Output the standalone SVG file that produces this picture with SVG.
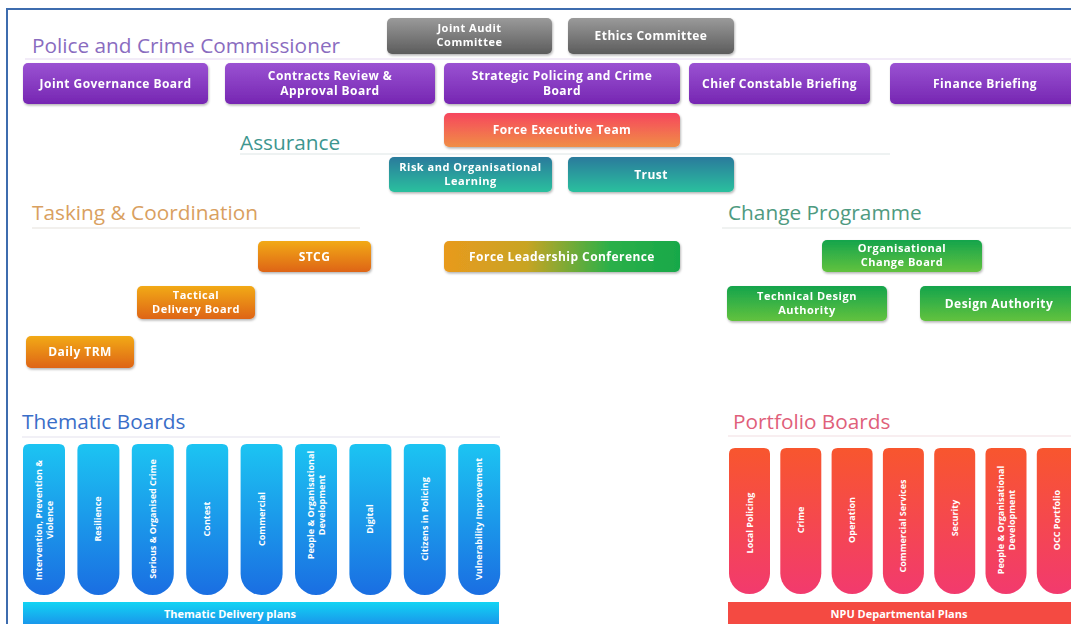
<svg xmlns="http://www.w3.org/2000/svg" xmlns:xlink="http://www.w3.org/1999/xlink" width="1071" height="624" viewBox="0 0 1071 624">
<style>
.hdr{font-family:"Open Sans","Noto Sans",sans-serif;font-size:20.8px}
.t{font-family:"Open Sans","Noto Sans",sans-serif;font-size:12px;letter-spacing:0.45px;font-weight:bold;fill:#fff;text-anchor:middle}
.s{font-size:11px;letter-spacing:0.5px}
.pt{font-family:"Open Sans","Noto Sans",sans-serif;font-size:9px;font-weight:bold;fill:#fff;text-anchor:middle}
.bt{font-family:"Open Sans","Noto Sans",sans-serif;font-size:11px;font-weight:bold;fill:#fff;text-anchor:middle}
.ul{stroke-width:1.2;fill:none}
.bx{filter:url(#sh)}
</style>
<defs>
<filter id="sh" x="-10%" y="-20%" width="120%" height="150%"><feDropShadow dx="0.8" dy="1.5" stdDeviation="1" flood-color="#000" flood-opacity="0.3"/></filter>
<linearGradient id="gGray" x1="0" y1="0" x2="0" y2="1"><stop offset="0" stop-color="#9a9a9a"/><stop offset="1" stop-color="#5c5c5c"/></linearGradient>
<linearGradient id="gPur" x1="0" y1="0" x2="0" y2="1"><stop offset="0" stop-color="#9a52d2"/><stop offset="1" stop-color="#7626b2"/></linearGradient>
<linearGradient id="gFet" x1="0" y1="0" x2="0" y2="1"><stop offset="0" stop-color="#f6465e"/><stop offset="1" stop-color="#f08e46"/></linearGradient>
<linearGradient id="gTeal" x1="0" y1="0" x2="0" y2="1"><stop offset="0" stop-color="#2a7a9c"/><stop offset="1" stop-color="#2cc09e"/></linearGradient>
<linearGradient id="gOr" x1="0" y1="0" x2="0" y2="1"><stop offset="0" stop-color="#f2aa16"/><stop offset="1" stop-color="#de6414"/></linearGradient>
<linearGradient id="gFlc" x1="0" y1="0" x2="1" y2="0"><stop offset="0" stop-color="#e89a1e"/><stop offset="0.35" stop-color="#c8a424"/><stop offset="0.7" stop-color="#2cb048"/><stop offset="1" stop-color="#18a84a"/></linearGradient>
<linearGradient id="gGr" x1="0" y1="0" x2="0" y2="1"><stop offset="0" stop-color="#14a44c"/><stop offset="1" stop-color="#62c23e"/></linearGradient>
<linearGradient id="gBlue" x1="0" y1="0" x2="0" y2="1"><stop offset="0" stop-color="#1cc4f2"/><stop offset="1" stop-color="#1a6ee2"/></linearGradient>
<linearGradient id="gBlueBar" x1="0" y1="0" x2="0" y2="1"><stop offset="0" stop-color="#12d4f4"/><stop offset="1" stop-color="#1a92ea"/></linearGradient>
<linearGradient id="gRed" x1="0" y1="0" x2="0" y2="1"><stop offset="0" stop-color="#f8562e"/><stop offset="1" stop-color="#f23a6e"/></linearGradient>
<path id="pillB" d="M6,0 H36 Q42,0 42,6 V130 A21,21 0 0 1 0,130 V6 Q0,0 6,0 Z"/>
<path id="pillR" d="M6,0 H35 Q41,0 41,6 V125.5 A20.5,20.5 0 0 1 0,125.5 V6 Q0,0 6,0 Z"/>
</defs>
<rect width="1071" height="624" fill="#fff"/>
<path d="M7,624 V9 H1071" stroke="#3d6cae" stroke-width="2" fill="none"/>

<g id="headers">
<text class="hdr" x="32" y="53" fill="#8a6cbf">Police and Crime Commissioner</text>
<line class="ul" x1="25" y1="59" x2="1071" y2="59" stroke="#e6d8f2"/>
<text class="hdr" x="240" y="150" fill="#3d968f" font-size="23">Assurance</text>
<line class="ul" x1="240" y1="154" x2="890" y2="154" stroke="#dde6e6"/>
<text class="hdr" x="32" y="220" fill="#d9a060">Tasking &amp; Coordination</text>
<line class="ul" x1="32" y1="228" x2="360" y2="228" stroke="#e6e2dc"/>
<text class="hdr" x="728" y="220" fill="#4e9a80">Change Programme</text>
<line class="ul" x1="722" y1="228" x2="1071" y2="228" stroke="#e2e6e4"/>
<text class="hdr" x="22" y="429" fill="#3a6ec8">Thematic Boards</text>
<line class="ul" x1="22" y1="437" x2="500" y2="437" stroke="#e4e2ee"/>
<text class="hdr" x="733" y="429" fill="#e0607a">Portfolio Boards</text>
<line class="ul" x1="728" y1="436" x2="1071" y2="436" stroke="#f2dde2"/>
</g>

<g id="connectors"/>

<g id="joint-audit-committee" class="bx"><rect x="387" y="18" width="165" height="36" rx="5" fill="url(#gGray)"/><text class="t s" x="469.5" y="32" fill="#eee">Joint Audit<tspan x="469.5" dy="14">Committee</tspan></text></g>
<g id="ethics-committee" class="bx"><rect x="568" y="18" width="166" height="36" rx="5" fill="url(#gGray)"/><text class="t" x="651" y="40">Ethics Committee</text></g>

<g id="joint-governance-board" class="bx"><rect x="23" y="63" width="185" height="41" rx="5" fill="url(#gPur)"/><text class="t" x="115.5" y="88">Joint Governance Board</text></g>
<g id="contracts-review" class="bx"><rect x="225" y="63" width="210" height="41" rx="5" fill="url(#gPur)"/><text class="t" x="330" y="80">Contracts Review &amp;<tspan x="330" dy="15">Approval Board</tspan></text></g>
<g id="strategic-policing" class="bx"><rect x="444" y="63" width="236" height="41" rx="5" fill="url(#gPur)"/><text class="t" x="562" y="80">Strategic Policing and Crime<tspan x="562" dy="15">Board</tspan></text></g>
<g id="chief-constable-briefing" class="bx"><rect x="689" y="63" width="181" height="41" rx="5" fill="url(#gPur)"/><text class="t" x="779.5" y="88">Chief Constable Briefing</text></g>
<g id="finance-briefing" class="bx"><rect x="890" y="63" width="190" height="41" rx="5" fill="url(#gPur)"/><text class="t" x="985" y="88">Finance Briefing</text></g>

<g id="force-executive-team" class="bx"><rect x="444" y="113" width="236" height="34" rx="5" fill="url(#gFet)"/><text class="t" x="562" y="134">Force Executive Team</text></g>

<g id="risk-learning" class="bx"><rect x="389" y="157" width="163" height="35" rx="5" fill="url(#gTeal)"/><text class="t s" x="470.5" y="171">Risk and Organisational<tspan x="470.5" dy="14">Learning</tspan></text></g>
<g id="trust" class="bx"><rect x="568" y="157" width="166" height="35" rx="5" fill="url(#gTeal)"/><text class="t" x="651" y="179">Trust</text></g>

<g id="stcg" class="bx"><rect x="258" y="241" width="113" height="31" rx="5" fill="url(#gOr)"/><text class="t" x="314.5" y="261">STCG</text></g>
<g id="force-leadership-conference" class="bx"><rect x="444" y="241" width="236" height="31" rx="5" fill="url(#gFlc)"/><text class="t" x="562" y="261">Force Leadership Conference</text></g>
<g id="tactical-delivery-board" class="bx"><rect x="137" y="286" width="118" height="33" rx="5" fill="url(#gOr)"/><text class="t s" x="196" y="299">Tactical<tspan x="196" dy="14">Delivery Board</tspan></text></g>
<g id="daily-trm" class="bx"><rect x="26" y="336" width="108" height="32" rx="5" fill="url(#gOr)"/><text class="t" x="80" y="356">Daily TRM</text></g>

<g id="organisational-change-board" class="bx"><rect x="822" y="240" width="160" height="32" rx="5" fill="url(#gGr)"/><text class="t s" x="902" y="252">Organisational<tspan x="902" dy="14">Change Board</tspan></text></g>
<g id="technical-design-authority" class="bx"><rect x="727" y="286" width="160" height="35" rx="5" fill="url(#gGr)"/><text class="t s" x="807" y="300">Technical Design<tspan x="807" dy="14">Authority</tspan></text></g>
<g id="design-authority" class="bx"><rect x="920" y="286" width="160" height="35" rx="5" fill="url(#gGr)"/><text class="t" x="999" y="308">Design Authority</text></g>

<g id="thematic-boards">
<g id="tb1"><use href="#pillB" x="23" y="444" fill="url(#gBlue)"/><text class="pt" transform="translate(44,520) rotate(-90)"><tspan x="0" y="-2">Intervention, Prevention &amp;</tspan><tspan x="0" y="9">Violence</tspan></text></g>
<g id="tb2"><use href="#pillB" x="77.4" y="444" fill="url(#gBlue)"/><text class="pt" transform="translate(98.4,519) rotate(-90)" y="3">Resilience</text></g>
<g id="tb3"><use href="#pillB" x="131.8" y="444" fill="url(#gBlue)"/><text class="pt" transform="translate(152.8,519) rotate(-90)" y="3">Serious &amp; Organised Crime</text></g>
<g id="tb4"><use href="#pillB" x="186.2" y="444" fill="url(#gBlue)"/><text class="pt" transform="translate(207.2,519) rotate(-90)" y="3">Contest</text></g>
<g id="tb5"><use href="#pillB" x="240.6" y="444" fill="url(#gBlue)"/><text class="pt" transform="translate(261.6,519) rotate(-90)" y="3">Commercial</text></g>
<g id="tb6"><use href="#pillB" x="295" y="444" fill="url(#gBlue)"/><text class="pt" transform="translate(316,505) rotate(-90)"><tspan x="0" y="-2">People &amp; Organisational</tspan><tspan x="0" y="9">Development</tspan></text></g>
<g id="tb7"><use href="#pillB" x="349.4" y="444" fill="url(#gBlue)"/><text class="pt" transform="translate(370.4,519) rotate(-90)" y="3">Digital</text></g>
<g id="tb8"><use href="#pillB" x="403.8" y="444" fill="url(#gBlue)"/><text class="pt" transform="translate(424.8,519) rotate(-90)" y="3">Citizens in Policing</text></g>
<g id="tb9"><use href="#pillB" x="458.2" y="444" fill="url(#gBlue)"/><text class="pt" transform="translate(479.2,519) rotate(-90)" y="3">Vulnerability Improvement</text></g>
</g>
<g id="thematic-delivery-plans"><rect x="23" y="602" width="476" height="24" fill="url(#gBlueBar)"/><text class="bt" x="230" y="618">Thematic Delivery plans</text></g>

<g id="portfolio-boards">
<g id="pb1"><use href="#pillR" x="729" y="448" fill="url(#gRed)"/><text class="pt" transform="translate(749.5,523) rotate(-90)" y="3">Local Policing</text></g>
<g id="pb2"><use href="#pillR" x="780.3" y="448" fill="url(#gRed)"/><text class="pt" transform="translate(800.8,520) rotate(-90)" y="3">Crime</text></g>
<g id="pb3"><use href="#pillR" x="831.6" y="448" fill="url(#gRed)"/><text class="pt" transform="translate(852.1,520) rotate(-90)" y="3">Operation</text></g>
<g id="pb4"><use href="#pillR" x="882.9" y="448" fill="url(#gRed)"/><text class="pt" transform="translate(903.4,526) rotate(-90)" y="3">Commercial Services</text></g>
<g id="pb5"><use href="#pillR" x="934.2" y="448" fill="url(#gRed)"/><text class="pt" transform="translate(954.7,518) rotate(-90)" y="3">Security</text></g>
<g id="pb6"><use href="#pillR" x="985.5" y="448" fill="url(#gRed)"/><text class="pt" transform="translate(1006,520) rotate(-90)"><tspan x="0" y="-2">People &amp; Organisational</tspan><tspan x="0" y="9">Development</tspan></text></g>
<g id="pb7"><use href="#pillR" x="1036.8" y="448" fill="url(#gRed)"/><text class="pt" transform="translate(1057.3,520) rotate(-90)" y="3">OCC Portfolio</text></g>
</g>
<g id="npu-departmental-plans"><rect x="728" y="602" width="345" height="24" fill="#f44a42"/><text class="bt" x="899" y="618">NPU Departmental Plans</text></g>
</svg>
